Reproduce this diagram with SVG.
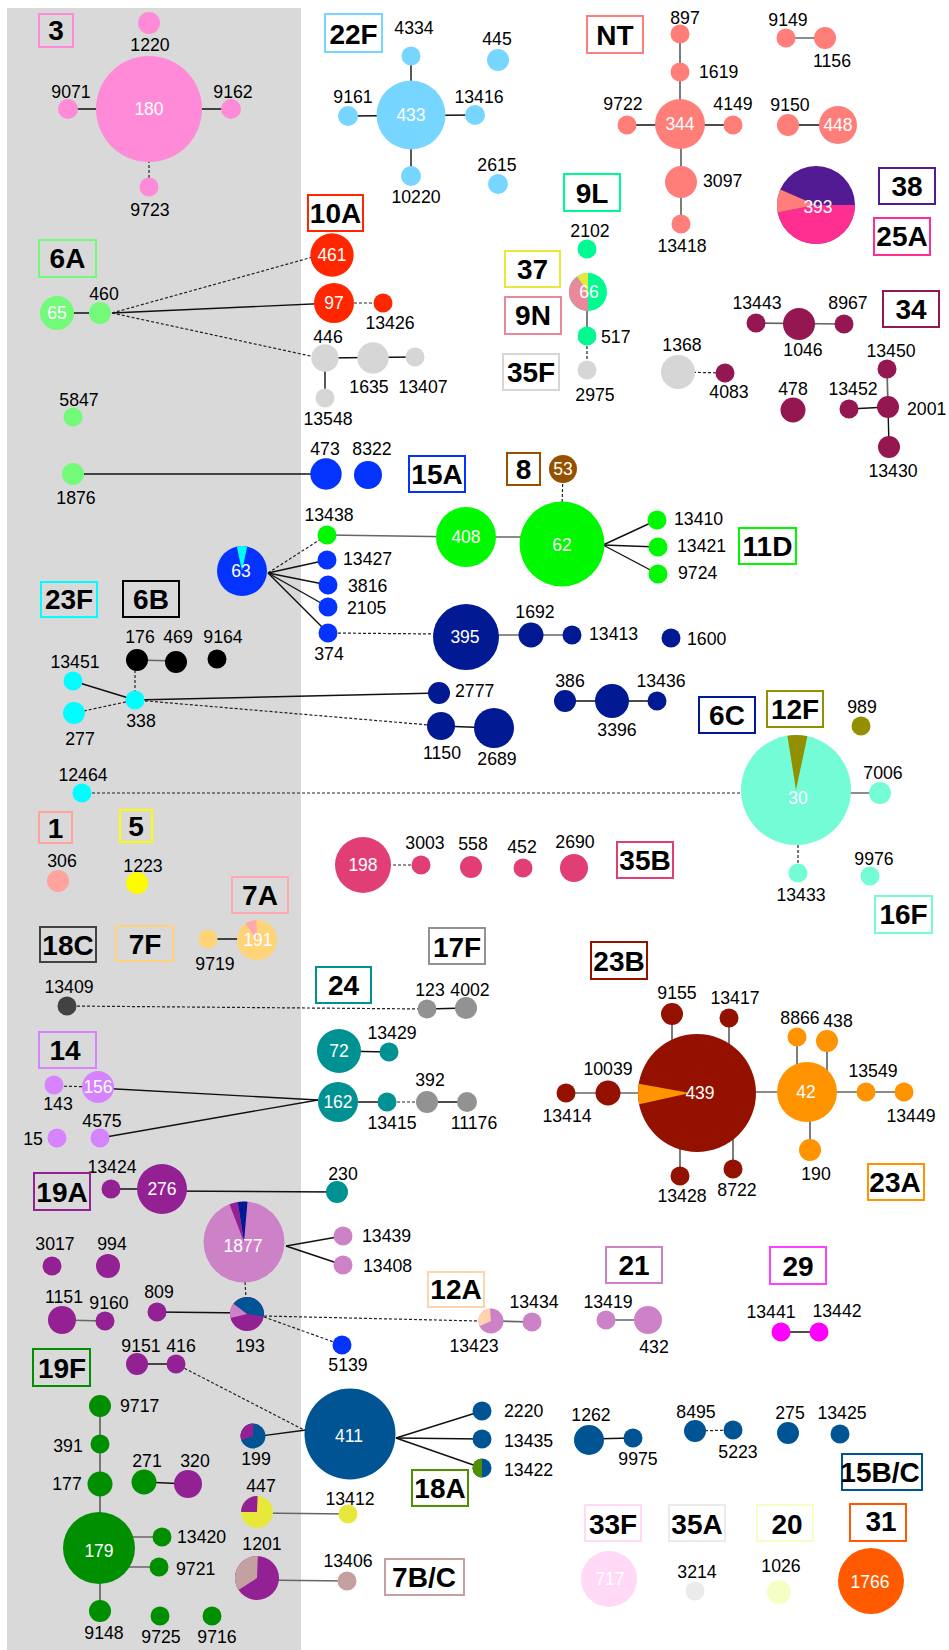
<svg xmlns="http://www.w3.org/2000/svg" width="949" height="1650" viewBox="0 0 949 1650">
<style>
.t{font-family:"Liberation Sans",Arial,sans-serif;font-size:17.7px;fill:#000;text-anchor:middle}
.a{text-anchor:start}
.w{font-family:"Liberation Sans",Arial,sans-serif;font-size:17.5px;fill:#fff;text-anchor:middle}
.b{font-family:"Liberation Sans",Arial,sans-serif;font-size:28px;font-weight:bold;fill:#000;text-anchor:middle}
.bx{fill:none;stroke-width:2}
.s{stroke:#111;stroke-width:1.4;fill:none}
.g{stroke:#666;stroke-width:1.7;fill:none}
.d{stroke:#222;stroke-width:1.2;stroke-dasharray:3 2;fill:none}
</style>
<rect x="0" y="0" width="949" height="1650" fill="#fff"/>
<rect x="7" y="8" width="294" height="1642" fill="#d9d9d9"/>
<g id="connectors">
<line class="s" x1="68" y1="109" x2="231" y2="109"/>
<line class="d" x1="149" y1="160" x2="149" y2="187"/>
<line class="s" x1="411" y1="56" x2="411" y2="176"/>
<line class="s" x1="348" y1="116" x2="475" y2="115"/>
<line class="g" x1="680" y1="34" x2="680" y2="124"/>
<line class="g" x1="681" y1="124" x2="681" y2="224"/>
<line class="s" x1="627" y1="125" x2="733" y2="125"/>
<line class="g" x1="786" y1="38" x2="825" y2="38"/>
<line class="s" x1="788" y1="125" x2="838" y2="125"/>
<line class="s" x1="57" y1="313" x2="100" y2="313"/>
<line class="s" x1="112" y1="313" x2="334" y2="303"/>
<line class="d" x1="112" y1="313" x2="320" y2="255"/>
<line class="d" x1="112" y1="313" x2="315" y2="357"/>
<line class="s" x1="325" y1="358" x2="415" y2="357"/>
<line class="s" x1="325" y1="358" x2="325" y2="398"/>
<line class="d" x1="334" y1="303" x2="383" y2="303"/>
<line class="g" x1="587" y1="292" x2="587" y2="336"/>
<line class="d" x1="587" y1="336" x2="587" y2="370"/>
<line class="g" x1="756" y1="323" x2="844" y2="324"/>
<line class="d" x1="678" y1="372" x2="725" y2="373"/>
<line class="g" x1="887" y1="369" x2="888" y2="407"/>
<line class="s" x1="849" y1="409" x2="888" y2="407"/>
<line class="s" x1="888" y1="407" x2="889" y2="447"/>
<line class="s" x1="73" y1="474" x2="326" y2="474"/>
<line class="d" x1="563" y1="469" x2="562" y2="510"/>
<line class="g" x1="327" y1="535" x2="466" y2="537"/>
<line class="g" x1="466" y1="537" x2="525" y2="537"/>
<line class="s" x1="603" y1="545" x2="657" y2="520"/>
<line class="s" x1="603" y1="545" x2="658" y2="547"/>
<line class="s" x1="603" y1="545" x2="658" y2="574"/>
<line class="d" x1="268" y1="573" x2="327" y2="535"/>
<line class="s" x1="268" y1="573" x2="327" y2="560"/>
<line class="s" x1="268" y1="573" x2="328" y2="585"/>
<line class="s" x1="268" y1="573" x2="328" y2="607"/>
<line class="s" x1="268" y1="573" x2="328" y2="633"/>
<line class="d" x1="328" y1="633" x2="440" y2="634"/>
<line class="g" x1="466" y1="635" x2="572" y2="635"/>
<line class="s" x1="565" y1="701" x2="657" y2="701"/>
<line class="g" x1="137" y1="660" x2="176" y2="661"/>
<line class="d" x1="135" y1="660" x2="135" y2="700"/>
<line class="s" x1="73" y1="681" x2="135" y2="700"/>
<line class="d" x1="74" y1="713" x2="135" y2="700"/>
<line class="s" x1="135" y1="700" x2="439" y2="693"/>
<line class="d" x1="135" y1="700" x2="441" y2="726"/>
<line class="s" x1="441" y1="726" x2="494" y2="728"/>
<line class="d" x1="82" y1="793" x2="742" y2="793"/>
<line class="g" x1="796" y1="793" x2="880" y2="793"/>
<line class="d" x1="798" y1="845" x2="798" y2="873"/>
<line class="d" x1="363" y1="865" x2="421" y2="865"/>
<line class="s" x1="208" y1="939" x2="257" y2="939"/>
<line class="d" x1="67" y1="1006" x2="427" y2="1009"/>
<line class="s" x1="427" y1="1009" x2="466" y2="1008"/>
<line class="s" x1="339" y1="1051" x2="389" y2="1052"/>
<line class="d" x1="54" y1="1086" x2="98" y2="1087"/>
<line class="s" x1="98" y1="1088" x2="318" y2="1100"/>
<line class="s" x1="100" y1="1138" x2="318" y2="1100"/>
<line class="s" x1="338" y1="1102" x2="387" y2="1102"/>
<line class="d" x1="387" y1="1102" x2="427" y2="1102"/>
<line class="s" x1="427" y1="1102" x2="467" y2="1102"/>
<line class="s" x1="111" y1="1189" x2="162" y2="1189"/>
<line class="s" x1="162" y1="1191" x2="337" y2="1192"/>
<line class="s" x1="286" y1="1246" x2="343" y2="1236"/>
<line class="s" x1="286" y1="1246" x2="343" y2="1265"/>
<line class="d" x1="245" y1="1282" x2="246" y2="1298"/>
<line class="g" x1="62" y1="1320" x2="105" y2="1321"/>
<line class="s" x1="157" y1="1312" x2="247" y2="1313"/>
<line class="d" x1="264" y1="1316" x2="479" y2="1321"/>
<line class="d" x1="264" y1="1317" x2="342" y2="1345"/>
<line class="s" x1="137" y1="1364" x2="176" y2="1364"/>
<line class="d" x1="180" y1="1366" x2="306" y2="1431"/>
<line class="s" x1="253" y1="1437" x2="306" y2="1430"/>
<line class="s" x1="396" y1="1438" x2="482" y2="1411"/>
<line class="s" x1="396" y1="1438" x2="482" y2="1439"/>
<line class="s" x1="396" y1="1438" x2="482" y2="1468"/>
<line class="g" x1="257" y1="1513" x2="348" y2="1514"/>
<line class="g" x1="257" y1="1580" x2="347" y2="1581"/>
<line class="g" x1="491" y1="1321" x2="532" y2="1322"/>
<line class="g" x1="606" y1="1320" x2="648" y2="1320"/>
<line class="s" x1="781" y1="1332" x2="819" y2="1332"/>
<line class="s" x1="589" y1="1439" x2="633" y2="1438"/>
<line class="d" x1="695" y1="1431" x2="733" y2="1430"/>
<line class="g" x1="100" y1="1406" x2="100" y2="1611"/>
<line class="s" x1="144" y1="1482" x2="188" y2="1484"/>
<line class="g" x1="120" y1="1537" x2="162" y2="1537"/>
<line class="g" x1="120" y1="1567" x2="159" y2="1567"/>
<line class="g" x1="672" y1="1014" x2="672" y2="1060"/>
<line class="g" x1="729" y1="1018" x2="729" y2="1060"/>
<line class="g" x1="680" y1="1176" x2="680" y2="1130"/>
<line class="g" x1="733" y1="1169" x2="733" y2="1130"/>
<line class="g" x1="566" y1="1093" x2="697" y2="1093"/>
<line class="g" x1="697" y1="1092" x2="807" y2="1092"/>
<line class="g" x1="797" y1="1037" x2="797" y2="1080"/>
<line class="g" x1="827" y1="1041" x2="827" y2="1080"/>
<line class="g" x1="807" y1="1092" x2="904" y2="1092"/>
<line class="g" x1="810" y1="1100" x2="810" y2="1150"/>
</g>
<g id="serotype-3" fill="#FF8AD8">
<g id="n1220"><circle cx="149" cy="23" r="11"/><text class="t" x="150" y="51">1220</text></g>
<g id="n180"><circle cx="149" cy="109" r="53"/><text class="w" x="149" y="115">180</text></g>
<g id="n9071"><circle cx="68" cy="109" r="10"/><text class="t" x="71" y="98">9071</text></g>
<g id="n9162"><circle cx="231" cy="109" r="10"/><text class="t" x="233" y="98">9162</text></g>
<g id="n9723"><circle cx="149" cy="187" r="9.5"/><text class="t" x="150" y="216">9723</text></g>
</g>
<g id="serotype-22F" fill="#76D6FF">
<g id="n4334"><circle cx="411" cy="56" r="9.5"/><text class="t" x="414" y="34">4334</text></g>
<g id="n433"><circle cx="411" cy="115" r="34.5"/><text class="w" x="411" y="121">433</text></g>
<g id="n9161"><circle cx="348" cy="116" r="10"/><text class="t" x="353" y="103">9161</text></g>
<g id="n13416"><circle cx="475" cy="115" r="10"/><text class="t" x="479" y="103">13416</text></g>
<g id="n10220"><circle cx="411" cy="176" r="10"/><text class="t" x="416" y="203">10220</text></g>
<g id="n445"><circle cx="498" cy="60" r="11"/><text class="t" x="497" y="45">445</text></g>
<g id="n2615"><circle cx="498" cy="184" r="10"/><text class="t" x="497" y="171">2615</text></g>
</g>
<g id="serotype-NT" fill="#FF7E79">
<g id="n897"><circle cx="680" cy="34" r="9.5"/><text class="t" x="685" y="24">897</text></g>
<g id="n1619"><circle cx="680" cy="72" r="9.5"/><text class="t a" x="699" y="78">1619</text></g>
<g id="n344"><circle cx="680" cy="124" r="25"/><text class="w" x="680" y="130">344</text></g>
<g id="n9722"><circle cx="627" cy="125" r="9.5"/><text class="t" x="623" y="110">9722</text></g>
<g id="n4149"><circle cx="733" cy="125" r="9.5"/><text class="t" x="733" y="110">4149</text></g>
<g id="n3097"><circle cx="681" cy="182" r="16"/><text class="t a" x="703" y="187">3097</text></g>
<g id="n13418"><circle cx="681" cy="224" r="9.5"/><text class="t" x="682" y="252">13418</text></g>
<g id="n9149"><circle cx="786" cy="38" r="9.5"/><text class="t" x="788" y="26">9149</text></g>
<g id="n1156"><circle cx="825" cy="38" r="11"/><text class="t" x="832" y="67">1156</text></g>
<g id="n9150"><circle cx="788" cy="125" r="11"/><text class="t" x="790" y="111">9150</text></g>
<g id="n448"><circle cx="838" cy="125" r="19"/><text class="w" x="838" y="131">448</text></g>
</g>
<g id="n393">
<circle cx="816" cy="205" r="39" fill="#531B93"/>
<path d="M816 205 L855 205 A39 39 0 0 1 777.7 212.4 Z" fill="#FF2F92"/>
<path d="M816 205 L777.7 212.4 A39 39 0 0 1 780.2 189.5 Z" fill="#FF7E79"/>
<text class="w" x="818" y="213">393</text>
</g>
<g id="serotype-10A" fill="#FF2600">
<g id="n461"><circle cx="332" cy="255" r="21.7"/><text class="w" x="332" y="261">461</text></g>
<g id="n97"><circle cx="334" cy="303" r="20"/><text class="w" x="334" y="309">97</text></g>
<g id="n13426"><circle cx="383" cy="303" r="9.5"/><text class="t" x="390" y="329">13426</text></g>
</g>
<g id="serotype-6A" fill="#73FA79">
<g id="n65"><circle cx="57" cy="313" r="17"/><text class="w" x="57" y="319">65</text></g>
<g id="n460"><circle cx="100" cy="313" r="11"/><text class="t" x="104" y="300">460</text></g>
<g id="n5847"><circle cx="73" cy="417" r="9.5"/><text class="t" x="79" y="406">5847</text></g>
<g id="n1876"><circle cx="73" cy="474" r="11"/><text class="t" x="76" y="504">1876</text></g>
</g>
<g id="serotype-35F" fill="#D6D6D6">
<g id="n446"><circle cx="325" cy="358" r="13.7"/><text class="t" x="328" y="343">446</text></g>
<g id="n1635"><circle cx="373" cy="358" r="15.7"/><text class="t" x="369" y="393">1635</text></g>
<g id="n13407"><circle cx="415" cy="357" r="9.5"/><text class="t" x="423" y="393">13407</text></g>
<g id="n13548"><circle cx="325" cy="398" r="9.5"/><text class="t" x="328" y="425">13548</text></g>
<g id="n2975"><circle cx="587" cy="370" r="9.5"/><text class="t" x="595" y="401">2975</text></g>
<g id="n1368"><circle cx="678" cy="372" r="17"/><text class="t" x="682" y="351">1368</text></g>
</g>
<g id="serotype-9L" fill="#00FA92">
<g id="n2102"><circle cx="587" cy="249" r="9.5"/><text class="t" x="590" y="237">2102</text></g>
<g id="n66"><circle cx="588" cy="292" r="19"/>
<path d="M588 292 L588 311 A19 19 0 0 1 577.1 276.4 Z" fill="#E8899B"/>
<path d="M588 292 L577.1 276.4 A19 19 0 0 1 588 273 Z" fill="#E8E83C"/>
<text class="w" x="589" y="298">66</text></g>
<g id="n517"><circle cx="587" cy="336" r="9.5"/><text class="t a" x="601" y="343">517</text></g>
</g>
<g id="serotype-34" fill="#941751">
<g id="n13443"><circle cx="756" cy="323" r="9.5"/><text class="t" x="757" y="309">13443</text></g>
<g id="n1046"><circle cx="799" cy="324" r="16"/><text class="t" x="803" y="356">1046</text></g>
<g id="n8967"><circle cx="844" cy="324" r="9.5"/><text class="t" x="848" y="309">8967</text></g>
<g id="n4083"><circle cx="725" cy="373" r="9.5"/><text class="t" x="729" y="398">4083</text></g>
<g id="n478"><circle cx="793" cy="410" r="12.5"/><text class="t" x="793" y="395">478</text></g>
<g id="n13450"><circle cx="887" cy="369" r="9.5"/><text class="t" x="891" y="357">13450</text></g>
<g id="n2001"><circle cx="888" cy="407" r="11"/><text class="t a" x="907" y="415">2001</text></g>
<g id="n13452"><circle cx="849" cy="409" r="9.5"/><text class="t" x="853" y="395">13452</text></g>
<g id="n13430"><circle cx="889" cy="447" r="11"/><text class="t" x="893" y="477">13430</text></g>
</g>
<g id="serotype-15A" fill="#0433FF">
<g id="n473"><circle cx="326" cy="474" r="15.7"/><text class="t" x="325" y="455">473</text></g>
<g id="n8322"><circle cx="368" cy="475" r="14"/><text class="t" x="372" y="455">8322</text></g>
<g id="n63"><circle cx="242" cy="571" r="25"/>
<path d="M242 571 L236.8 546.6 A25 25 0 0 1 247.2 546.6 Z" fill="#00FDFF"/>
<text class="w" x="241" y="577">63</text></g>
<g id="n13427"><circle cx="327" cy="560" r="9.5"/><text class="t a" x="343" y="565">13427</text></g>
<g id="n3816"><circle cx="328" cy="585" r="9.5"/><text class="t a" x="348" y="592">3816</text></g>
<g id="n2105"><circle cx="328" cy="607" r="9.5"/><text class="t a" x="347" y="614">2105</text></g>
<g id="n374"><circle cx="328" cy="633" r="9.5"/><text class="t" x="329" y="660">374</text></g>
<g id="n5139"><circle cx="342" cy="1345" r="9.5"/><text class="t" x="348" y="1371">5139</text></g>
</g>
<g id="serotype-8" fill="#945200">
<g id="n53"><circle cx="563" cy="469" r="14"/><text class="w" x="563" y="475">53</text></g>
</g>
<g id="serotype-11D" fill="#00F900">
<g id="n13438"><circle cx="327" cy="535" r="9.5"/><text class="t" x="329" y="521">13438</text></g>
<g id="n408"><circle cx="466" cy="537" r="30"/><text class="w" x="466" y="543">408</text></g>
<g id="n62"><circle cx="562" cy="544" r="42.5"/><text class="w" x="562" y="551">62</text></g>
<g id="n13410"><circle cx="657" cy="520" r="9.5"/><text class="t a" x="674" y="525">13410</text></g>
<g id="n13421"><circle cx="658" cy="547" r="9.5"/><text class="t a" x="677" y="552">13421</text></g>
<g id="n9724"><circle cx="658" cy="574" r="9.5"/><text class="t a" x="678" y="579">9724</text></g>
</g>
<g id="serotype-6C" fill="#011993">
<g id="n395"><circle cx="466" cy="637" r="33"/><text class="w" x="465" y="643">395</text></g>
<g id="n1692"><circle cx="531" cy="635" r="12.5"/><text class="t" x="535" y="618">1692</text></g>
<g id="n13413"><circle cx="572" cy="635" r="9.5"/><text class="t a" x="589" y="640">13413</text></g>
<g id="n1600"><circle cx="671" cy="638" r="9.5"/><text class="t a" x="687" y="645">1600</text></g>
<g id="n2777"><circle cx="439" cy="693" r="11"/><text class="t a" x="455" y="697">2777</text></g>
<g id="n1150"><circle cx="441" cy="726" r="14"/><text class="t" x="442" y="759">1150</text></g>
<g id="n2689"><circle cx="494" cy="728" r="20"/><text class="t" x="497" y="765">2689</text></g>
<g id="n386"><circle cx="565" cy="701" r="11"/><text class="t" x="570" y="687">386</text></g>
<g id="n3396"><circle cx="612" cy="701" r="17"/><text class="t" x="617" y="736">3396</text></g>
<g id="n13436"><circle cx="657" cy="701" r="9.5"/><text class="t" x="661" y="687">13436</text></g>
</g>
<g id="serotype-6B" fill="#000">
<g id="n176"><circle cx="137" cy="660" r="11"/><text class="t" x="140" y="643">176</text></g>
<g id="n469"><circle cx="176" cy="662" r="11"/><text class="t" x="178" y="643">469</text></g>
<g id="n9164"><circle cx="217" cy="659" r="9.5"/><text class="t" x="223" y="643">9164</text></g>
</g>
<g id="serotype-23F" fill="#00FDFF">
<g id="n13451"><circle cx="73" cy="681" r="9.5"/><text class="t" x="75" y="668">13451</text></g>
<g id="n277"><circle cx="74" cy="713" r="11"/><text class="t" x="80" y="745">277</text></g>
<g id="n338"><circle cx="135" cy="700" r="9.5"/><text class="t" x="141" y="727">338</text></g>
<g id="n12464"><circle cx="82" cy="793" r="9.5"/><text class="t" x="83" y="781">12464</text></g>
</g>
<g id="serotype-12F" fill="#929000">
<g id="n989"><circle cx="861" cy="726" r="9.5"/><text class="t" x="862" y="713">989</text></g>
</g>
<g id="serotype-16F" fill="#73FCD6">
<g id="n30"><circle cx="796" cy="790" r="55"/>
<path d="M796 790 L787.4 735.7 A55 55 0 0 1 807.4 736.2 Z" fill="#929000"/>
<text class="w" x="798" y="804">30</text></g>
<g id="n7006"><circle cx="880" cy="793" r="11"/><text class="t" x="883" y="779">7006</text></g>
<g id="n13433"><circle cx="798" cy="873" r="9.5"/><text class="t" x="801" y="901">13433</text></g>
<g id="n9976"><circle cx="870" cy="876" r="9.5"/><text class="t" x="874" y="865">9976</text></g>
</g>
<g id="serotype-35B" fill="#E03E74">
<g id="n198"><circle cx="363" cy="865" r="28"/><text class="w" x="363" y="871">198</text></g>
<g id="n3003"><circle cx="421" cy="865" r="9.5"/><text class="t" x="425" y="849">3003</text></g>
<g id="n558"><circle cx="471" cy="867" r="11"/><text class="t" x="473" y="850">558</text></g>
<g id="n452"><circle cx="523" cy="868" r="9.5"/><text class="t" x="522" y="853">452</text></g>
<g id="n2690"><circle cx="574" cy="868" r="14"/><text class="t" x="575" y="848">2690</text></g>
</g>
<g id="n306"><circle cx="58" cy="881" r="11" fill="#FFA39C"/><text class="t" x="62" y="867">306</text></g>
<g id="n1223"><circle cx="137" cy="883" r="11" fill="#FFFB00"/><text class="t" x="143" y="872">1223</text></g>
<g id="serotype-7F" fill="#FFD479">
<g id="n9719"><circle cx="208" cy="939" r="9.5"/><text class="t" x="215" y="970">9719</text></g>
<g id="n191"><circle cx="257" cy="940" r="20"/>
<path d="M257 940 L245.5 923.6 A20 20 0 0 1 256.3 920 Z" fill="#FFA8B0"/>
<text class="w" x="258" y="946">191</text></g>
</g>
<g id="n13409"><circle cx="67" cy="1006" r="9.5" fill="#424242"/><text class="t" x="69" y="993">13409</text></g>
<g id="serotype-17F" fill="#929292">
<g id="n123"><circle cx="427" cy="1009" r="9.5"/><text class="t" x="430" y="996">123</text></g>
<g id="n4002"><circle cx="466" cy="1008" r="11"/><text class="t" x="470" y="996">4002</text></g>
<g id="n392"><circle cx="427" cy="1102" r="11"/><text class="t" x="430" y="1086">392</text></g>
<g id="n11176"><circle cx="467" cy="1102" r="10"/><text class="t" x="474" y="1129">11176</text></g>
</g>
<g id="serotype-24" fill="#009193">
<g id="n72"><circle cx="339" cy="1051" r="22"/><text class="w" x="339" y="1057">72</text></g>
<g id="n13429"><circle cx="389" cy="1052" r="9.5"/><text class="t" x="392" y="1039">13429</text></g>
<g id="n162"><circle cx="338" cy="1102" r="20"/><text class="w" x="338" y="1108">162</text></g>
<g id="n13415"><circle cx="387" cy="1102" r="9.5"/><text class="t" x="392" y="1129">13415</text></g>
<g id="n230"><circle cx="337" cy="1192" r="11"/><text class="t" x="343" y="1180">230</text></g>
</g>
<g id="serotype-14" fill="#D783FF">
<g id="n143"><circle cx="54" cy="1085" r="9.5"/><text class="t" x="58" y="1110">143</text></g>
<g id="n156"><circle cx="98" cy="1087" r="16"/><text class="w" x="98" y="1093">156</text></g>
<g id="n15"><circle cx="57" cy="1138" r="9.5"/><text class="t" x="33" y="1145">15</text></g>
<g id="n4575"><circle cx="100" cy="1138" r="9.5"/><text class="t" x="102" y="1127">4575</text></g>
</g>
<g id="serotype-19A" fill="#942193">
<g id="n13424"><circle cx="111" cy="1189" r="9.5"/><text class="t" x="112" y="1173">13424</text></g>
<g id="n276"><circle cx="162" cy="1189" r="25"/><text class="w" x="162" y="1195">276</text></g>
<g id="n3017"><circle cx="52" cy="1266" r="9.5"/><text class="t" x="55" y="1250">3017</text></g>
<g id="n994"><circle cx="108" cy="1266" r="12"/><text class="t" x="112" y="1250">994</text></g>
<g id="n1151"><circle cx="62" cy="1320" r="14"/><text class="t" x="64" y="1303">1151</text></g>
<g id="n9160"><circle cx="105" cy="1321" r="9.5"/><text class="t" x="109" y="1309">9160</text></g>
<g id="n809"><circle cx="157" cy="1312" r="9.5"/><text class="t" x="159" y="1298">809</text></g>
<g id="n9151"><circle cx="137" cy="1364" r="11"/><text class="t" x="141" y="1352">9151</text></g>
<g id="n416"><circle cx="176" cy="1364" r="9.5"/><text class="t" x="181" y="1352">416</text></g>
<g id="n320"><circle cx="188" cy="1484" r="14"/><text class="t" x="195" y="1467">320</text></g>
<g id="n193"><circle cx="247" cy="1314" r="17"/>
<path d="M247 1314 L233.4 1303.8 A17 17 0 0 1 263.8 1316.4 Z" fill="#005493"/>
<path d="M247 1314 L230.5 1318.1 A17 17 0 0 1 233.4 1303.8 Z" fill="#CD82C8"/>
<text class="t" x="250" y="1352">193</text></g>
<g id="n1201"><circle cx="257" cy="1578" r="22"/>
<path d="M257 1578 L238.5 1590 A22 22 0 0 1 257.8 1556 Z" fill="#C4A0A0"/>
<text class="t" x="262" y="1550">1201</text></g>
</g>
<g id="serotype-21" fill="#CD82C8">
<g id="n1877"><circle cx="244" cy="1242" r="40.5"/>
<path d="M244 1242 L229.5 1204.2 A40.5 40.5 0 0 1 237.7 1202 Z" fill="#942193"/>
<path d="M244 1242 L237.7 1202 A40.5 40.5 0 0 1 247.5 1201.7 Z" fill="#011993"/>
<text class="w" x="243" y="1252">1877</text></g>
<g id="n13439"><circle cx="343" cy="1236" r="9.5"/><text class="t a" x="362" y="1242">13439</text></g>
<g id="n13408"><circle cx="343" cy="1265" r="9.5"/><text class="t a" x="363" y="1272">13408</text></g>
<g id="n13423"><circle cx="491" cy="1321" r="12.5"/>
<path d="M491 1321 L479.7 1326.3 A12.5 12.5 0 0 1 489.9 1308.5 Z" fill="#FFD3AB"/>
<text class="t" x="474" y="1352">13423</text></g>
<g id="n13434"><circle cx="532" cy="1322" r="9.5"/><text class="t" x="534" y="1308">13434</text></g>
<g id="n13419"><circle cx="606" cy="1320" r="9.5"/><text class="t" x="608" y="1308">13419</text></g>
<g id="n432"><circle cx="648" cy="1320" r="14"/><text class="t" x="654" y="1353">432</text></g>
</g>
<g id="serotype-29" fill="#FF00FF">
<g id="n13441"><circle cx="781" cy="1332" r="9.5"/><text class="t" x="771" y="1318">13441</text></g>
<g id="n13442"><circle cx="819" cy="1332" r="9.5"/><text class="t" x="837" y="1317">13442</text></g>
</g>
<g id="serotype-19F" fill="#008F00">
<g id="n9717"><circle cx="100" cy="1406" r="11"/><text class="t a" x="120" y="1412">9717</text></g>
<g id="n391"><circle cx="100" cy="1444" r="9.5"/><text class="t" x="68" y="1452">391</text></g>
<g id="n177"><circle cx="100" cy="1484" r="12.5"/><text class="t" x="67" y="1490">177</text></g>
<g id="n179"><circle cx="99" cy="1548" r="36"/><text class="w" x="99" y="1557">179</text></g>
<g id="n9148"><circle cx="100" cy="1611" r="11"/><text class="t" x="104" y="1639">9148</text></g>
<g id="n271"><circle cx="144" cy="1482" r="12.5"/><text class="t" x="147" y="1467">271</text></g>
<g id="n13420"><circle cx="162" cy="1537" r="9.5"/><text class="t a" x="177" y="1543">13420</text></g>
<g id="n9721"><circle cx="159" cy="1567" r="9.5"/><text class="t a" x="176" y="1575">9721</text></g>
<g id="n9725"><circle cx="160" cy="1616" r="9.5"/><text class="t" x="161" y="1643">9725</text></g>
<g id="n9716"><circle cx="212" cy="1616" r="9.5"/><text class="t" x="217" y="1643">9716</text></g>
</g>
<g id="serotype-15BC" fill="#005493">
<g id="n199"><circle cx="253" cy="1436" r="12.5"/>
<path d="M253 1436 L241.3 1440.3 A12.5 12.5 0 0 1 253.4 1423.5 Z" fill="#942193"/>
<text class="t" x="256" y="1465">199</text></g>
<g id="n411"><circle cx="350" cy="1434" r="45.5"/><text class="w" x="349" y="1442">411</text></g>
<g id="n2220"><circle cx="482" cy="1411" r="9.5"/><text class="t a" x="504" y="1417">2220</text></g>
<g id="n13435"><circle cx="482" cy="1439" r="9.5"/><text class="t a" x="504" y="1447">13435</text></g>
<g id="n13422"><circle cx="482" cy="1468" r="9.5"/>
<path d="M482 1458.5 A9.5 9.5 0 0 0 482 1477.5 Z" fill="#4F8F00"/>
<text class="t a" x="504" y="1476">13422</text></g>
<g id="n1262"><circle cx="589" cy="1440" r="15"/><text class="t" x="591" y="1421">1262</text></g>
<g id="n9975"><circle cx="633" cy="1438" r="9.5"/><text class="t" x="638" y="1465">9975</text></g>
<g id="n8495"><circle cx="695" cy="1431" r="11"/><text class="t" x="696" y="1418">8495</text></g>
<g id="n5223"><circle cx="733" cy="1430" r="9.5"/><text class="t" x="738" y="1458">5223</text></g>
<g id="n275"><circle cx="788" cy="1433" r="11"/><text class="t" x="790" y="1419">275</text></g>
<g id="n13425"><circle cx="840" cy="1434" r="9.5"/><text class="t" x="842" y="1419">13425</text></g>
</g>
<g id="n447"><circle cx="257" cy="1512" r="16" fill="#E8E83C"/>
<path d="M257 1512 L241 1512 A16 16 0 0 1 257.6 1496 Z" fill="#942193"/>
<text class="t" x="261" y="1492">447</text></g>
<g id="n13412"><circle cx="348" cy="1514" r="9.5" fill="#E8E83C"/><text class="t" x="350" y="1505">13412</text></g>
<g id="n13406"><circle cx="347" cy="1581" r="9.5" fill="#C4A0A0"/><text class="t" x="348" y="1567">13406</text></g>
<g id="serotype-23B" fill="#941100">
<g id="n439"><circle cx="697" cy="1093" r="59"/>
<path d="M690 1093 L639.1 1104.3 A59 59 0 0 1 638.7 1083.8 Z" fill="#FF9300"/>
<text class="w" x="700" y="1099">439</text></g>
<g id="n9155"><circle cx="672" cy="1014" r="11"/><text class="t" x="677" y="999">9155</text></g>
<g id="n13417"><circle cx="729" cy="1018" r="9.5"/><text class="t" x="735" y="1004">13417</text></g>
<g id="n10039"><circle cx="608" cy="1093" r="12.5"/><text class="t" x="608" y="1075">10039</text></g>
<g id="n13414"><circle cx="566" cy="1093" r="9.5"/><text class="t" x="567" y="1122">13414</text></g>
<g id="n13428"><circle cx="680" cy="1176" r="9.5"/><text class="t" x="682" y="1202">13428</text></g>
<g id="n8722"><circle cx="733" cy="1169" r="9.5"/><text class="t" x="737" y="1196">8722</text></g>
</g>
<g id="serotype-23A" fill="#FF9300">
<g id="n42"><circle cx="807" cy="1092" r="30"/><text class="w" x="806" y="1098">42</text></g>
<g id="n8866"><circle cx="797" cy="1037" r="9.5"/><text class="t" x="800" y="1024">8866</text></g>
<g id="n438"><circle cx="827" cy="1041" r="11"/><text class="t" x="838" y="1027">438</text></g>
<g id="n13549"><circle cx="866" cy="1092" r="9.5"/><text class="t" x="873" y="1077">13549</text></g>
<g id="n13449"><circle cx="904" cy="1092" r="9.5"/><text class="t" x="911" y="1122">13449</text></g>
<g id="n190"><circle cx="810" cy="1150" r="11"/><text class="t" x="816" y="1180">190</text></g>
</g>
<g id="n717"><circle cx="609" cy="1579" r="28" fill="#FFD9F5"/><text class="w" x="610" y="1585">717</text></g>
<g id="n3214"><circle cx="695" cy="1591" r="9.5" fill="#EBEBEB"/><text class="t" x="697" y="1578">3214</text></g>
<g id="n1026"><circle cx="779" cy="1592" r="12" fill="#F5FFC5"/><text class="t" x="781" y="1572">1026</text></g>
<g id="n1766"><circle cx="871" cy="1581" r="33" fill="#FF5A00"/><text class="w" x="870" y="1588">1766</text></g>
<g id="labels">
<g id="lab-3"><rect class="bx" x="39" y="14" width="34" height="33" stroke="#FF8AD8"/><text class="b" x="56" y="40">3</text></g>
<g id="lab-22F"><rect class="bx" x="325" y="14" width="57" height="38" stroke="#76D6FF"/><text class="b" x="353.5" y="44">22F</text></g>
<g id="lab-NT"><rect class="bx" x="587" y="16" width="56" height="37" stroke="#FF7E79"/><text class="b" x="615" y="45">NT</text></g>
<g id="lab-10A"><rect class="bx" x="308" y="195" width="55" height="36" stroke="#FF2600"/><text class="b" x="335.5" y="223">10A</text></g>
<g id="lab-6A"><rect class="bx" x="39" y="240" width="57" height="37" stroke="#73FA79"/><text class="b" x="67.5" y="268">6A</text></g>
<g id="lab-9L"><rect class="bx" x="564" y="174" width="56" height="37" stroke="#00FA92"/><text class="b" x="592" y="203">9L</text></g>
<g id="lab-38"><rect class="bx" x="879" y="168" width="56" height="36" stroke="#531B93"/><text class="b" x="907" y="196">38</text></g>
<g id="lab-25A"><rect class="bx" x="874" y="218" width="56" height="37" stroke="#FF2F92"/><text class="b" x="902" y="246">25A</text></g>
<g id="lab-37"><rect class="bx" x="505" y="251" width="55" height="36" stroke="#E8E83C"/><text class="b" x="532.5" y="279">37</text></g>
<g id="lab-9N"><rect class="bx" x="505" y="297" width="56" height="37" stroke="#E8899B"/><text class="b" x="533" y="325">9N</text></g>
<g id="lab-35F"><rect class="bx" x="503" y="354" width="56" height="36" stroke="#D6D6D6"/><text class="b" x="531" y="382">35F</text></g>
<g id="lab-34"><rect class="bx" x="883" y="291" width="56" height="36" stroke="#941751"/><text class="b" x="911" y="319">34</text></g>
<g id="lab-15A"><rect class="bx" x="409" y="456" width="56" height="36" stroke="#0433FF"/><text class="b" x="437" y="484">15A</text></g>
<g id="lab-8"><rect class="bx" x="507" y="453" width="33" height="32" stroke="#945200"/><text class="b" x="523.5" y="479">8</text></g>
<g id="lab-11D"><rect class="bx" x="739" y="528" width="57" height="36" stroke="#00F900"/><text class="b" x="767.5" y="556">11D</text></g>
<g id="lab-23F"><rect class="bx" x="41" y="582" width="56" height="35" stroke="#00FDFF"/><text class="b" x="69" y="609">23F</text></g>
<g id="lab-6B"><rect class="bx" x="123" y="581" width="56" height="36" stroke="#000"/><text class="b" x="151" y="609">6B</text></g>
<g id="lab-6C"><rect class="bx" x="699" y="697" width="56" height="36" stroke="#011993"/><text class="b" x="727" y="725">6C</text></g>
<g id="lab-12F"><rect class="bx" x="767" y="691" width="56" height="36" stroke="#929000"/><text class="b" x="795" y="719">12F</text></g>
<g id="lab-1"><rect class="bx" x="39" y="812" width="33" height="31" stroke="#FFA39C"/><text class="b" x="55.5" y="838">1</text></g>
<g id="lab-5"><rect class="bx" x="120" y="810" width="32" height="32" stroke="#FFFB00"/><text class="b" x="136" y="836">5</text></g>
<g id="lab-7A"><rect class="bx" x="232" y="877" width="56" height="36" stroke="#FFA8B0"/><text class="b" x="260" y="905">7A</text></g>
<g id="lab-35B"><rect class="bx" x="617" y="842" width="56" height="36" stroke="#E03E74"/><text class="b" x="645" y="870">35B</text></g>
<g id="lab-16F"><rect class="bx" x="875" y="896" width="57" height="37" stroke="#73FCD6"/><text class="b" x="903.5" y="924">16F</text></g>
<g id="lab-18C"><rect class="bx" x="40" y="927" width="56" height="35" stroke="#424242"/><text class="b" x="68" y="955">18C</text></g>
<g id="lab-7F"><rect class="bx" x="116" y="926" width="57" height="35" stroke="#FFD479"/><text class="b" x="145" y="954">7F</text></g>
<g id="lab-17F"><rect class="bx" x="429" y="928" width="56" height="36" stroke="#929292"/><text class="b" x="457" y="957">17F</text></g>
<g id="lab-24"><rect class="bx" x="316" y="967" width="55" height="36" stroke="#009193"/><text class="b" x="343.5" y="995">24</text></g>
<g id="lab-23B"><rect class="bx" x="591" y="942" width="56" height="37" stroke="#941100"/><text class="b" x="619" y="971">23B</text></g>
<g id="lab-14"><rect class="bx" x="39" y="1032" width="57" height="36" stroke="#D783FF"/><text class="b" x="65" y="1060">14</text></g>
<g id="lab-19A"><rect class="bx" x="34" y="1173" width="56" height="37" stroke="#942193"/><text class="b" x="62" y="1202">19A</text></g>
<g id="lab-23A"><rect class="bx" x="868" y="1164" width="56" height="36" stroke="#FF9300"/><text class="b" x="895" y="1192">23A</text></g>
<g id="lab-12A"><rect class="bx" x="428" y="1272" width="56" height="35" stroke="#FFD3AB"/><text class="b" x="456" y="1299">12A</text></g>
<g id="lab-21"><rect class="bx" x="606" y="1247" width="56" height="36" stroke="#CD82C8"/><text class="b" x="634" y="1275">21</text></g>
<g id="lab-29"><rect class="bx" x="770" y="1247" width="56" height="37" stroke="#FF40FF"/><text class="b" x="798" y="1276">29</text></g>
<g id="lab-19F"><rect class="bx" x="33" y="1349" width="57" height="37" stroke="#008F00"/><text class="b" x="62" y="1378">19F</text></g>
<g id="lab-18A"><rect class="bx" x="412" y="1470" width="56" height="36" stroke="#4F8F00"/><text class="b" x="440" y="1498">18A</text></g>
<g id="lab-15BC"><rect class="bx" x="842" y="1454" width="80" height="36" stroke="#005493"/><text class="b" x="880" y="1482">15B/C</text></g>
<g id="lab-7BC"><rect class="bx" x="385" y="1559" width="79" height="36" stroke="#C4A0A0"/><text class="b" x="424" y="1587">7B/C</text></g>
<g id="lab-33F"><rect class="bx" x="585" y="1505" width="56" height="36" stroke="#FFD9F5"/><text class="b" x="613" y="1534">33F</text></g>
<g id="lab-35A"><rect class="bx" x="669" y="1505" width="56" height="36" stroke="#EBEBEB"/><text class="b" x="697" y="1534">35A</text></g>
<g id="lab-20"><rect class="bx" x="757" y="1505" width="56" height="36" stroke="#F5FFC5"/><text class="b" x="787" y="1534">20</text></g>
<g id="lab-31"><rect class="bx" x="850" y="1504" width="56" height="37" stroke="#FF5A00"/><text class="b" x="881" y="1531">31</text></g>
</g>
</svg>
